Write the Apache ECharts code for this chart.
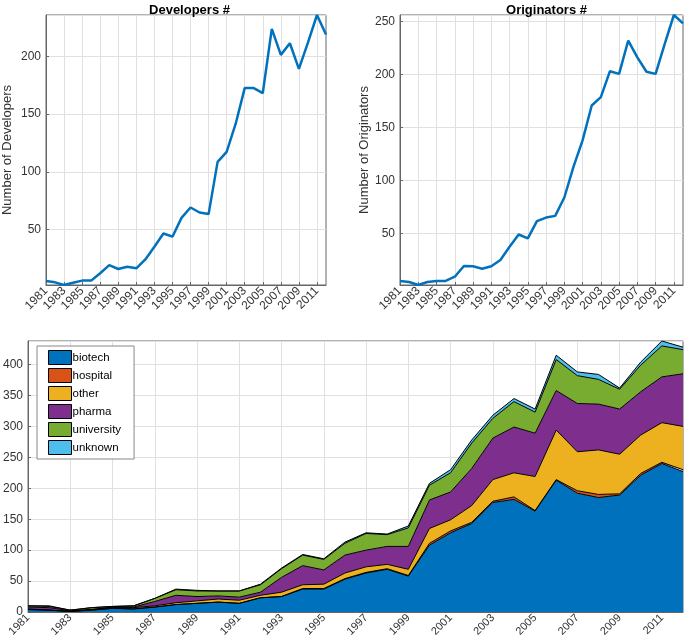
<!DOCTYPE html>
<html>
<head>
<meta charset="utf-8">
<script src="https://cdn.jsdelivr.net/npm/echarts@6/dist/echarts.min.js"></script>
<style>
html,body{margin:0;padding:0;background:#fff;}
#c{width:685px;height:643px;}
</style>
</head>
<body>
<div id="c"></div>
<script>
const years = [];
for (let y = 1981; y <= 2012; y++) years.push(String(y));

const developers = [5.3,4.1,1.8,3.8,5.6,5.6,12,19,15.7,17.7,16.3,24,35,46.5,43.7,60,69,64.7,63.3,108.6,117.2,141.7,172.6,172.6,168.3,224,201.4,211.5,189.3,212,236,219];
const originators = [5.2,4.2,1.4,4.2,5.2,5.2,9.2,19.3,19,16.8,19,25,37.5,49,45.3,61.6,65,66.6,83.9,112.7,137.8,170.7,178.5,203,200.5,231.8,216,202.5,200.5,228.7,256,248.1];

const biotech    = [4,3,1,3,6,5,8,12,14,16,14,23,25,37,37,53,63,69,58,108,128,143,177,182,163,213,192,185,189,221,240,227];
const hospital   = [0,0,0,0,0,0,0,0,0,0,0,0,0,1,1,1,1,1,1,3,3,2,2,4,1,1,4,5,2,3,2,3];
const other      = [1,0,0,1,1,2,2,3,4,5,5,4,7,6,7,9,9,7,10,24,18,27,35,39,55,80,63,72,64,62,64,70];
const pharma     = [3,4,1,0,1,1,7,12,7,5,5,5,24,31,23,29,27,29,37,46,45,60,67,74,70,64,78,74,73,70,74,85];
const university = [2,2,1,3,1,2,5,9,9,8,10,12,14,17,17,19,27,19,30,24,31,41,32,41,34,50,45,40,32,43,50,39];
const unknown    = [0,1,0,0,0,0,0,1,1,0,0,1,1,1,1,2,1,1,3,3,5,5,5,5,5,7,6,8,2,5,8,4];

const stackNames = ['biotech','hospital','other','pharma','university','unknown'];
const stackData = [biotech, hospital, other, pharma, university, unknown];
const stackColors = ['#0072BD','#D95319','#EDB120','#7E2F8E','#77AC30','#4DBEEE'];

const FONT = 'Liberation Sans, Arial, Helvetica, sans-serif';
const TXT = '#333';
const BOX = '#666';
const GRIDC = '#e0e0e0';

function xAxis(gridIndex, fs) {
  return {
    type: 'category', gridIndex, data: years, boundaryGap: false,
    axisLine: {show: true, lineStyle: {color: BOX, width: 1}},
    axisTick: {show: true, inside: true, length: 3, interval: 1, lineStyle: {color: BOX}},
    axisLabel: {interval: 1, rotate: 45, fontSize: fs, color: TXT, fontFamily: FONT, margin: 4},
    splitLine: {show: true, interval: 1, lineStyle: {color: GRIDC, width: 1}}
  };
}
function yAxis(gridIndex, extra) {
  return Object.assign({
    type: 'value', gridIndex,
    axisLine: {show: true, lineStyle: {color: BOX, width: 1}},
    axisTick: {show: true, inside: true, length: 3, lineStyle: {color: BOX}},
    axisLabel: {fontSize: 12, color: TXT, fontFamily: FONT, margin: 5, showMinLabel: false, showMaxLabel: false},
    splitLine: {show: true, lineStyle: {color: GRIDC, width: 1}},
    nameLocation: 'middle',
    nameTextStyle: {fontSize: 13, color: TXT, fontFamily: FONT}
  }, extra);
}

const series = [
  {type: 'line', xAxisIndex: 0, yAxisIndex: 0, data: developers, showSymbol: false, symbol: 'none',
   lineStyle: {color: '#0072BD', width: 2.5}, itemStyle: {color: '#0072BD'}, silent: true},
  {type: 'line', xAxisIndex: 1, yAxisIndex: 1, data: originators, showSymbol: false, symbol: 'none',
   lineStyle: {color: '#0072BD', width: 2.5}, itemStyle: {color: '#0072BD'}, silent: true}
];
stackNames.forEach((n, i) => {
  series.push({
    type: 'line', name: n, xAxisIndex: 2, yAxisIndex: 2, stack: 'total', data: stackData[i],
    symbol: 'none', showSymbol: false, silent: true,
    itemStyle: {color: stackColors[i]},
    lineStyle: {color: '#000', width: 1},
    areaStyle: {color: stackColors[i], opacity: 1}
  });
});

const chart = echarts.init(document.getElementById('c'), null, {renderer: 'canvas'});
chart.setOption({
  animation: false,
  backgroundColor: '#fff',
  title: [
    {text: 'Developers #', left: 184.5, top: -1, textAlign: 'center',
     textStyle: {fontSize: 13, fontWeight: 'bold', color: '#000', fontFamily: FONT}},
    {text: 'Originators #', left: 541.5, top: -1, textAlign: 'center',
     textStyle: {fontSize: 13, fontWeight: 'bold', color: '#000', fontFamily: FONT}}
  ],
  grid: [
    {left: 43, top: 15, width: 283, height: 270, show: true, borderColor: BOX, borderWidth: 1, backgroundColor: '#fff'},
    {left: 400, top: 15, width: 283, height: 270, show: true, borderColor: BOX, borderWidth: 1, backgroundColor: '#fff'},
    {left: 28, top: 341, width: 655, height: 271, show: true, borderColor: BOX, borderWidth: 1, backgroundColor: '#fff'}
  ],
  xAxis: [xAxis(0, 12), xAxis(1, 12), xAxis(2, 11)],
  yAxis: [
    yAxis(0, {min: 'dataMin', max: 'dataMax', name: 'Number of Developers', nameGap: 32}),
    yAxis(1, {min: 'dataMin', max: 'dataMax', name: 'Number of Originators', nameGap: 29}),
    yAxis(2, {min: 0, max: 'dataMax', interval: 50, axisLabel: {fontSize: 12, color: TXT, fontFamily: FONT, margin: 5, showMaxLabel: false}})
  ],
  legend: {
    show: true, orient: 'vertical', left: 37, top: 346,
    data: stackNames.map((n, i) => ({name: n, icon: 'rect', itemStyle: {color: stackColors[i], borderColor: '#000', borderWidth: 1}})),
    itemWidth: 23, itemHeight: 14, itemGap: 3,
    padding: [4, 13, 4, 11],
    backgroundColor: '#fff', borderColor: '#888', borderWidth: 1,
    textStyle: {fontSize: 11.5, color: '#000', fontFamily: FONT, padding: [0, 0, 0, -4]},
    selectedMode: false
  },
  series
});
</script>
</body>
</html>
